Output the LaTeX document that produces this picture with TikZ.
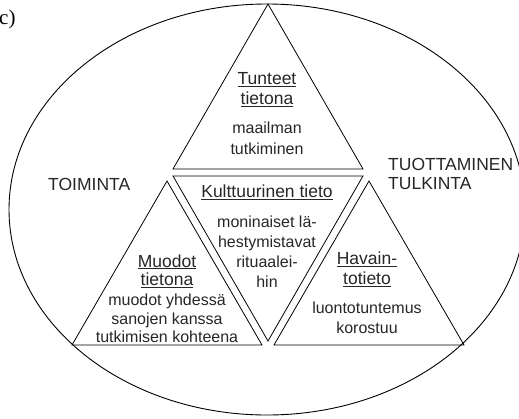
\documentclass[tikz,border=0pt]{standalone}
\usepackage{fontspec}
\setmainfont{Liberation Serif}
\setsansfont{Liberation Sans}
\usetikzlibrary{calc,positioning}

\tikzset{
  tri/.style={draw, line width=.8pt, line join=miter},
  caps/.style={font=\sffamily\fontsize{17.5}{19}\selectfont, text=black!85, align=left, inner sep=0pt},
  head/.style={font=\sffamily\fontsize{17.5}{20}\selectfont, text=black!85, align=center, inner sep=0pt},
  desc/.style={font=\sffamily\fontsize{16}{20}\selectfont, text=black!85, align=center, inner sep=0pt},
}

\begin{document}
\begin{tikzpicture}[x=1pt,y=-1pt]
  \useasboundingbox (0,0) rectangle (519,418);
  \clip (0,0) rectangle (519,418);

  \draw[line width=.9pt] (267,209.5) ellipse [x radius=258pt, y radius=205.5pt];

  % corners of the four triangles
  \coordinate (ttop) at (268,4);
  \coordinate (tl) at (173,169);
  \coordinate (tr) at (363,169);
  \coordinate (ml) at (173,176);
  \coordinate (mr) at (363,176);
  \coordinate (mbot) at (268,341);
  \coordinate (ltop) at (167,181);
  \coordinate (ll) at (72,345);
  \coordinate (lr) at (262,345);
  \coordinate (rtop) at (369,181);
  \coordinate (rl) at (274,345);
  \coordinate (rr) at (464,345);

  \draw[tri] (ttop) -- (tl) -- (tr) -- cycle;
  \draw[tri] (ml) -- (mr) -- (mbot) -- cycle;
  \draw[tri] (ltop) -- (ll) -- (lr) -- cycle;
  \draw[tri] (rtop) -- (rl) -- (rr) -- cycle;

  \node[font=\fontsize{21}{21}\selectfont, anchor=base west, inner sep=0pt] (osa) at (-1,24) {c)};

  \node[caps, anchor=west] (toiminta) at (48,184) {TOIMINTA};
  \node[caps, anchor=west] (tuottaminen) at (388,173.5) {TUOTTAMINEN\\TULKINTA};

  \node[head] (tunteet) at (267,90) {\underline{Tunteet}\\\underline{tietona}};
  \node[desc, font=\sffamily\fontsize{16}{21}\selectfont] (tunteetd) at (267,138.5) {maailman\\tutkiminen};

  \node[head] (kulttuuri) at (267,192) {\underline{Kulttuurinen tieto}};
  \node[desc] (kulttuurid) at (267,251.5) {moninaiset lä-\\hestymistavat\\rituaalei-\\hin};

  \node[head, font=\sffamily\fontsize{17.5}{18.5}\selectfont] (muodot) at (167,271) {\underline{Muodot}\\\underline{tietona}};
  \node[desc, font=\sffamily\fontsize{16}{18.5}\selectfont] (muodotd) at (167,318.5) {muodot yhdessä\\sanojen kanssa\\tutkimisen kohteena};

  \node[head] (havainto) at (367,269.5) {\underline{Havain-}\\\underline{totieto}};
  \node[desc] (havaintod) at (367,318) {luontotuntemus\\korostuu};
\end{tikzpicture}
\end{document}
